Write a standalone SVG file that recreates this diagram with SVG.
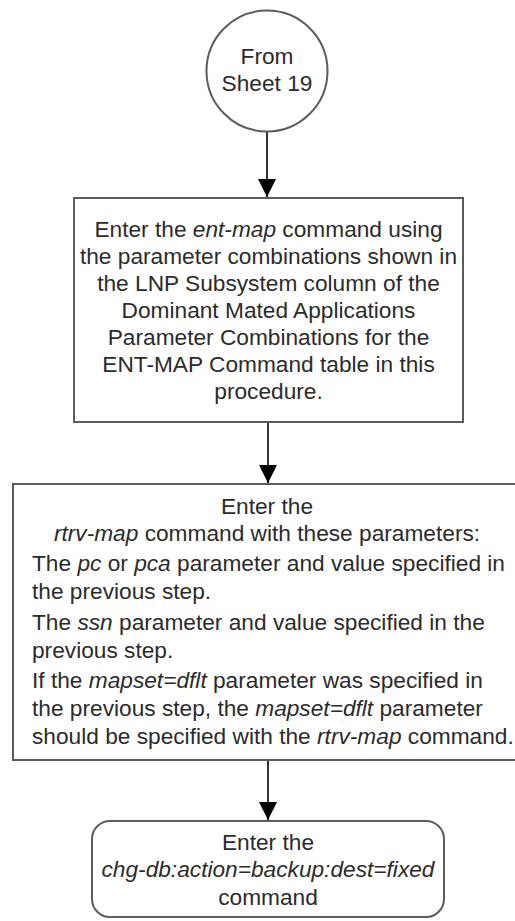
<svg xmlns="http://www.w3.org/2000/svg" width="515" height="921" viewBox="0 0 515 921">
<style>
text{font-family:"Liberation Sans",Arial,sans-serif;font-size:22.7px;fill:#2b2b2b}
.c{text-anchor:middle}
.i{font-style:italic}
.box{fill:#fff;stroke:#5c5c5c;stroke-width:2}
.ln{stroke:#000;stroke-width:1.6;fill:none}
</style>
<defs>
<marker id="ah" markerUnits="userSpaceOnUse" markerWidth="18" markerHeight="18" refX="18" refY="9" orient="auto">
<path d="M0,0 L18,9 L0,18 Z" fill="#000"/>
</marker>
</defs>
<rect width="515" height="921" fill="#fff"/>
<g id="connectors">
<line class="ln" x1="267" y1="131.5" x2="267" y2="197" marker-end="url(#ah)"/>
<line class="ln" x1="268" y1="423" x2="268" y2="483" marker-end="url(#ah)"/>
<line class="ln" x1="268" y1="761" x2="268" y2="820" marker-end="url(#ah)"/>
</g>
<g id="start">
<circle class="box" cx="267" cy="71" r="60.5" stroke-width="1.5"/>
<text class="c" x="267" y="64">From</text>
<text class="c" x="267" y="91">Sheet 19</text>
</g>
<g id="step1">
<rect class="box" x="74" y="198" width="389" height="224"/>
<text class="c" x="268.5" y="236.5">Enter the <tspan class="i">ent-map</tspan> command using</text>
<text class="c" x="268.5" y="263.5">the parameter combinations shown in</text>
<text class="c" x="268.5" y="290.5">the LNP Subsystem column of the</text>
<text class="c" x="268.5" y="317.5">Dominant Mated Applications</text>
<text class="c" x="268.5" y="344.5">Parameter Combinations for the</text>
<text class="c" x="268.5" y="371.5">ENT-MAP Command table in this</text>
<text class="c" x="268.5" y="398.5">procedure.</text>
</g>
<g id="step2">
<rect class="box" x="13" y="484" width="509" height="276"/>
<text class="c" x="267" y="514">Enter the</text>
<text class="c" x="267" y="541"><tspan class="i">rtrv-map</tspan> command with these parameters:</text>
<text x="32" y="570.5">The <tspan class="i">pc</tspan> or <tspan class="i">pca</tspan> parameter and value specified in</text>
<text x="32" y="599">the previous step.</text>
<text x="32" y="630">The <tspan class="i">ssn</tspan> parameter and value specified in the</text>
<text x="32" y="658">previous step.</text>
<text x="32" y="688">If the <tspan class="i">mapset=dflt</tspan> parameter was specified in</text>
<text x="32" y="716">the previous step, the <tspan class="i">mapset=dflt</tspan> parameter</text>
<text x="32" y="744">should be specified with the <tspan class="i">rtrv-map</tspan> command.</text>
</g>
<g id="step3">
<rect class="box" x="92" y="821" width="352" height="96" rx="18" ry="18"/>
<text class="c" x="268" y="850">Enter the</text>
<text class="c i" x="268" y="877">chg-db:action=backup:dest=fixed</text>
<text class="c" x="268" y="905">command</text>
</g>
</svg>
